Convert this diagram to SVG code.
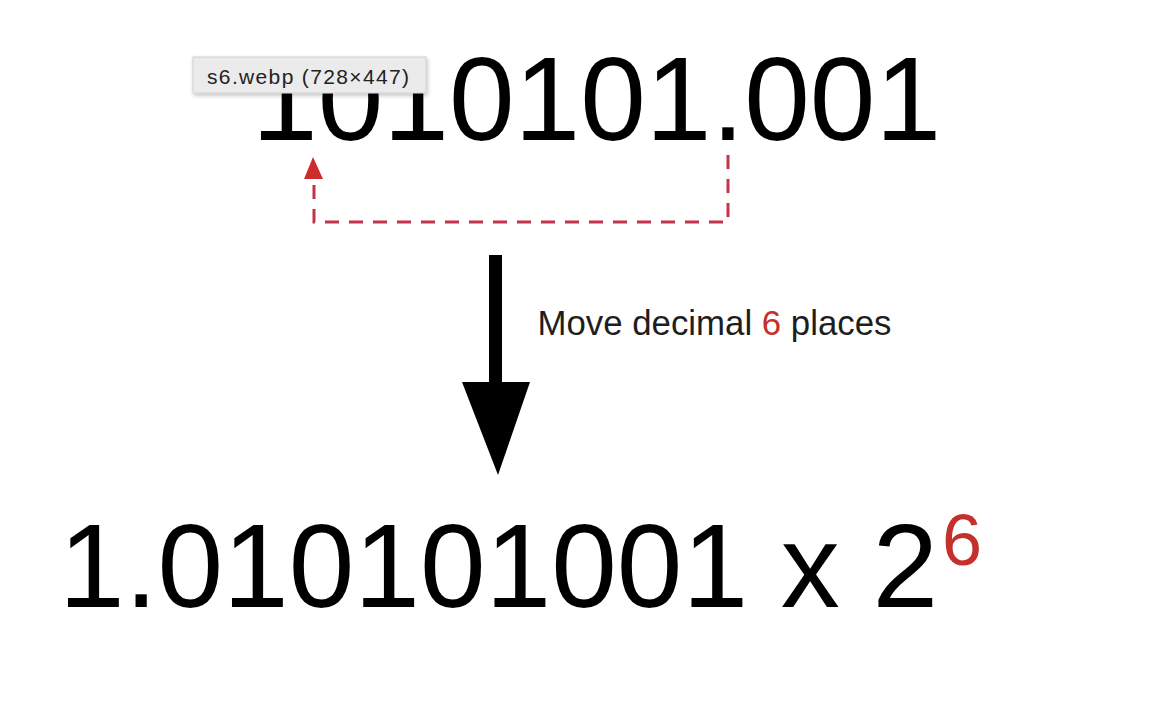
<svg xmlns="http://www.w3.org/2000/svg" width="1158" height="706" viewBox="0 0 1158 706">
<style>
.big{font-family:"Liberation Sans",Arial,sans-serif;font-size:118px;fill:#000}
.lbl{font-family:"Liberation Sans",Arial,sans-serif;font-size:34.8px;fill:#1e1e1e}
.red{fill:#c4302b}
.tip{font-family:"Liberation Sans",Arial,sans-serif;font-size:21px;fill:#222}
</style>
<defs>
<filter id="sh" x="-10%" y="-30%" width="120%" height="180%">
<feGaussianBlur in="SourceAlpha" stdDeviation="2"/>
<feOffset dx="1" dy="2" result="b"/>
<feComponentTransfer><feFuncA type="linear" slope="0.25"/></feComponentTransfer>
<feMerge><feMergeNode/><feMergeNode in="SourceGraphic"/></feMerge>
</filter>
</defs>
<rect width="1158" height="706" fill="#fff"/>
<g id="top-number">
<text class="big" x="252" y="140">1010101.001</text>
</g>
<g id="label">
<text class="lbl" x="537.5" y="335">Move decimal <tspan class="red">6</tspan> places</text>
</g>
<g id="result">
<text class="big" x="59" y="607">1.010101001 x 2</text>
<text class="big red" x="942" y="565" style="font-size:72px">6</text>
</g>
<g id="connectors">
<path d="M728,155 V222 H314 V180" fill="none" stroke="#c2344a" stroke-width="3" stroke-dasharray="14,10"/>
<path d="M304,179 L313,157 L323,179 Z" fill="#cc2c2c"/>
<path d="M489,255 H502 V382 H530 L498,475 L462,382 H489 Z" fill="#000"/>
</g>
<g id="tooltip">
<rect x="193" y="57" width="233" height="36" fill="#ebebeb" stroke="#d0d0d0" stroke-width="1" filter="url(#sh)"/>
<text class="tip" x="207" y="84" textLength="202" lengthAdjust="spacing">s6.webp (728×447)</text>
</g>
</svg>
